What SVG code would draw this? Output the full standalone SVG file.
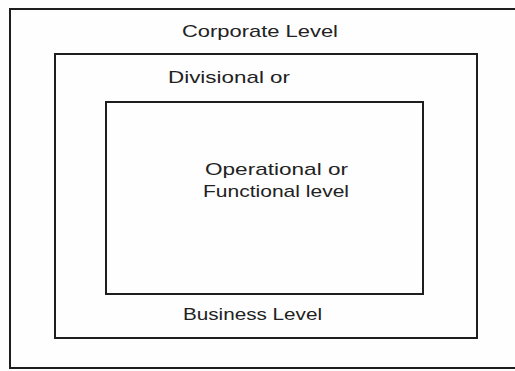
<svg xmlns="http://www.w3.org/2000/svg" width="515" height="371" viewBox="0 0 515 371">
<style>
.box{fill:none;stroke:#1e1e1e;stroke-width:2}
.lbl{font-family:"Liberation Sans","DejaVu Sans",sans-serif;font-size:17px;fill:#222}
</style>
<rect x="0" y="0" width="515" height="371" fill="#fefefe"/>
<g id="corporate">
<rect class="box" x="10" y="9" width="520" height="359"/>
<text class="lbl" x="182" y="37" textLength="156" lengthAdjust="spacingAndGlyphs">Corporate Level</text>
</g>
<g id="business">
<rect class="box" x="55" y="54" width="422" height="284"/>
<text class="lbl" x="168" y="83" textLength="122" lengthAdjust="spacingAndGlyphs">Divisional or</text>
<text class="lbl" x="183" y="320" textLength="139" lengthAdjust="spacingAndGlyphs">Business Level</text>
</g>
<g id="operational">
<rect class="box" x="106" y="102" width="317" height="192"/>
<text class="lbl" x="205" y="175" textLength="143" lengthAdjust="spacingAndGlyphs">Operational or</text>
<text class="lbl" x="203" y="197" textLength="146" lengthAdjust="spacingAndGlyphs">Functional level</text>
</g>
<g id="connectors"></g>
</svg>
